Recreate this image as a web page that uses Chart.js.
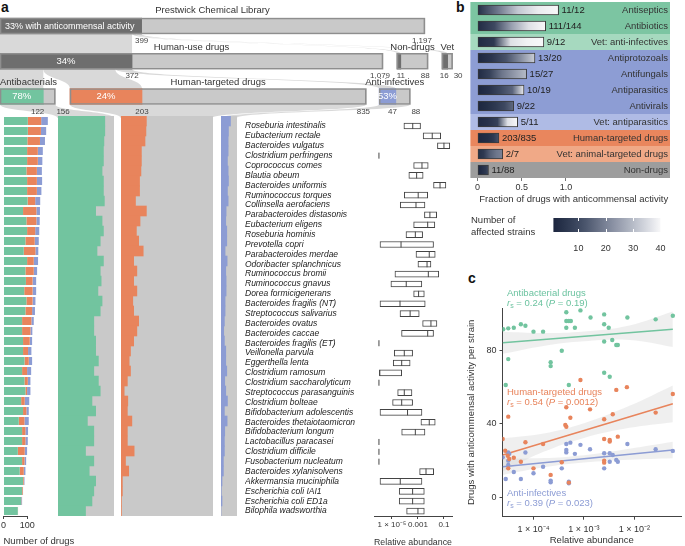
<!DOCTYPE html>
<html>
<head>
<meta charset="utf-8">
<title>Anticommensal activity of the Prestwick library</title>
<script src="https://cdn.jsdelivr.net/npm/chart.js@4.4.1/dist/chart.umd.min.js"></script>
<style>
  html, body { margin: 0; padding: 0; background: #fff; }
  body { position: relative; width: 685px; height: 546px; overflow: hidden;
         font-family: "Liberation Sans", Arial, sans-serif; color: #333; }
  canvas { position: absolute; }
  .txt { position: absolute; white-space: nowrap; font-size: 9.5px; line-height: 11px; }
  .sub { font-size: 7px; vertical-align: -2px; }
  .panel { position: absolute; font-weight: bold; font-size: 14px; line-height: 14px; color: #111; }
</style>
</head>
<body>
<div class="panel" style="left:1px;top:0px">a</div>
<div class="panel" style="left:456px;top:0px">b</div>
<div class="panel" style="left:468px;top:271px">c</div>

<canvas id="tiers" width="470" height="118" style="left:0;top:0"></canvas>
<canvas id="counts" width="75" height="432" style="left:0;top:116px"></canvas>
<canvas id="boxes" width="220" height="432" style="left:240px;top:116px"></canvas>
<canvas id="fractions" width="230" height="212" style="left:455px;top:0"></canvas>
<canvas id="colorbar" width="130" height="44" style="left:545px;top:212px"></canvas>
<canvas id="scatter" width="230" height="266" style="left:455px;top:280px"></canvas>

<div class="txt" style="left:471px;top:214px">Number of</div>
<div class="txt" style="left:471px;top:226px">affected strains</div>

<div class="txt" style="left:507px;top:287px;color:#6cc3a0">Antibacterial drugs</div>
<div class="txt" style="left:507px;top:297px;color:#6cc3a0"><i>r</i><span class="sub">s</span> = 0.24 (<i>P</i> = 0.19)</div>
<div class="txt" style="left:507px;top:386px;color:#e8845c">Human-targeted drugs</div>
<div class="txt" style="left:507px;top:396px;color:#e8845c"><i>r</i><span class="sub">s</span> = 0.54 (<i>P</i> = 0.0012)</div>
<div class="txt" style="left:507px;top:487px;color:#8c9cd4">Anti-infectives</div>
<div class="txt" style="left:507px;top:497px;color:#8c9cd4"><i>r</i><span class="sub">s</span> = 0.39 (<i>P</i> = 0.023)</div>

<script>
// ---------- panel a: library tiers ----------
const tierGroups = ['Prestwick Chemical Library', 'Human-use drugs', 'Non-drugs', 'Vet',
                    'Antibacterials', 'Human-targeted drugs', 'Anti-infectives'];
const tierLevel = [0, 1, 1, 1, 2, 2, 2];
const tierParent = [-1, 0, 0, 0, 1, 1, 1];
const tierTotal = [1197, 1079, 88, 30, 156, 835, 88];
const tierActive = [399, 372, 11, 16, 122, 203, 47];

// ---------- panel a: strains ----------
const strains = ['Roseburia intestinalis', 'Eubacterium rectale', 'Bacteroides vulgatus', 'Clostridium perfringens',
  'Coprococcus comes', 'Blautia obeum', 'Bacteroides uniformis', 'Ruminococcus torques', 'Collinsella aerofaciens',
  'Parabacteroides distasonis', 'Eubacterium eligens', 'Roseburia hominis', 'Prevotella copri',
  'Parabacteroides merdae', 'Odoribacter splanchnicus', 'Ruminococcus bromii', 'Ruminococcus gnavus',
  'Dorea formicigenerans', 'Bacteroides fragilis (NT)', 'Streptococcus salivarius', 'Bacteroides ovatus',
  'Bacteroides caccae', 'Bacteroides fragilis (ET)', 'Veillonella parvula', 'Eggerthella lenta',
  'Clostridium ramosum', 'Clostridium saccharolyticum', 'Streptococcus parasanguinis', 'Clostridium bolteae',
  'Bifidobacterium adolescentis', 'Bacteroides thetaiotaomicron', 'Bifidobacterium longum',
  'Lactobacillus paracasei', 'Clostridium difficile', 'Fusobacterium nucleatum', 'Bacteroides xylanisolvens',
  'Akkermansia muciniphila', 'Escherichia coli IAI1', 'Escherichia coli ED1a', 'Bilophila wadsworthia'];

// drugs hitting each strain, per class
const antibacterialHits = [102, 102, 100, 99, 99, 96, 99, 99, 101, 82, 96, 99, 92, 85, 99, 92, 94, 87, 96, 92,
  78, 78, 82, 82, 88, 78, 88, 92, 74, 82, 64, 78, 78, 60, 78, 68, 82, 78, 74, 60];
const humanTargetedHits = [56, 55, 53, 45, 45, 44, 41, 41, 32, 56, 42, 34, 39, 49, 28, 35, 28, 35, 26, 28,
  39, 35, 28, 21, 18, 21, 14, 7, 15, 14, 24, 14, 14, 29, 10, 17, 3, 3, 1, 1];
const antiInfectiveHits = [28, 22, 21, 21, 19, 21, 22, 19, 21, 15, 14, 17, 17, 12, 18, 14, 15, 15, 12, 12,
  10, 8, 10, 14, 14, 17, 11, 14, 19, 10, 18, 11, 10, 10, 7, 7, 3, 1, 3, 0];
const countTicks = [0, 100];

// relative abundance (log10) per strain: lower quartile, median, upper quartile
const abundQ1Log = [-4.08, -2.6, -1.5, -6, -3.33, -3.7, -1.8, -4.05, -4.36, -2.5, -3.33, -3.92, -5.92, -3.15,
  -3.0, -4.77, -5.08, -3.33, -5.92, -4.38, -2.64, -4.26, -6, -4.82, -4.9, -5.95, -6, -4.56, -4.95, -5.92,
  -2.77, -4.25, -6, -6, -6, -2.87, -5.92, -4.44, -4.44, -3.87];
const abundMedLog = [-3.4, -1.9, -1.0, -6, -2.69, -3.1, -1.3, -2.98, -3.15, -2.08, -2.25, -3.2, -4.3, -2.13,
  -2.3, -2.2, -3.9, -2.95, -4.38, -3.6, -2.0, -2.25, -6, -4.05, -4.25, -5.95, -6, -4.05, -4.25, -3.8,
  -2.13, -3.2, -6, -6, -6, -2.38, -4.36, -3.41, -3.41, -3.0];
const abundQ3Log = [-2.8, -1.25, -0.55, -6, -2.21, -2.6, -0.85, -2.25, -2.46, -1.56, -1.7, -2.64, -1.8, -1.67,
  -2.0, -1.4, -2.7, -2.51, -2.44, -2.9, -1.54, -1.8, -6, -3.41, -3.6, -4.25, -6, -3.46, -3.41, -2.69,
  -1.67, -2.46, -6, -6, -6, -1.79, -2.69, -2.51, -2.51, -2.51];
const abundTicksA = [1e-5, 1e-3, 1e-1];
const abundTickLabelsA = ['1 × 10⁻⁵', '0.001', '0.1'];

// ---------- panel b ----------
const bCategories = ['Antiseptics', 'Antibiotics', 'Vet: anti-infectives', 'Antiprotozoals', 'Antifungals',
  'Antiparasitics', 'Antivirals', 'Vet: antiparasitics', 'Human-targeted drugs', 'Vet: animal-targeted drugs', 'Non-drugs'];
const bActive = [11, 111, 9, 13, 15, 10, 9, 5, 203, 2, 11];
const bTotal = [12, 144, 12, 20, 27, 19, 22, 11, 835, 7, 88];
// affected strains along each bar (drugs sorted), read at 0, 25, 50, 75, 100 %
const bStrainQuantiles = [[3, 18, 32, 38, 40], [2, 10, 25, 36, 40], [2, 6, 36, 39, 40], [1, 5, 12, 22, 33],
  [2, 8, 18, 24, 30], [1, 4, 10, 15, 38], [1, 3, 6, 10, 16], [2, 4, 8, 36, 40], [1, 2, 3, 6, 12],
  [3, 6, 14, 18, 20], [1, 2, 4, 6, 10]];
const bTicks = [0, 0.5, 1];
const strainRange = [1, 40];
const strainTicks = [10, 20, 30, 40];

// ---------- panel c ----------
const abxLogAbund = [-4.60, -4.50, -4.39, -4.25, -4.16, -4.00, -3.81, -4.50, -4.55, -3.44, -3.66, -3.66, -3.35,
  -3.35, -3.30, -3.26, -3.35, -3.18, -3.07, -3.30, -2.87, -2.60, -2.60, -2.51, -2.14, -1.58, -1.24, -2.60,
  -2.44, -2.36, -2.33, -2.60, -2.49];
const abxPerStrain = [91.7, 92.2, 92.5, 94.4, 93.6, 90.4, 90.4, 75.4, 61.3, 80, 73.7, 71.6, 101, 96.2, 96.2,
  96.2, 92.5, 92.5, 102, 61.3, 98.1, 99.8, 94.4, 92.5, 98.1, 97.1, 99.1, 85, 85.8, 83.1, 83.1, 68, 65.8];
const htLogAbund = [-4.61, -4.50, -4.56, -4.51, -4.48, -4.39, -4.50, -4.25, -4.16, -4.00, -3.81, -3.66, -3.44,
  -3.35, -3.37, -3.35, -3.27, -3.30, -3.07, -2.88, -2.36, -2.15, -2.60, -2.43, -2.60, -2.49, -2.49, -2.33,
  -2.60, -2.60, -1.58, -1.24];
const htPerStrain = [31.8, 44, 25.4, 22.7, 20.9, 21.6, 15.8, 19.4, 30, 15.8, 29.1, 12.2, 19.1, 49.1, 39.5,
  38.5, 43.4, 8, 64, 48, 58.6, 60.1, 42.6, 45.3, 31.8, 31.3, 30.4, 33.1, 20, 18.9, 46.2, 56.4];
const aiLogAbund = [-4.61, -4.50, -4.48, -4.50, -4.50, -4.55, -4.39, -4.25, -4.16, -4.00, -3.81, -3.66, -3.66,
  -3.44, -3.35, -3.35, -3.35, -3.27, -3.30, -3.30, -3.18, -3.07, -2.88, -2.60, -2.49, -2.43, -2.60, -2.49,
  -2.36, -2.33, -2.14, -1.58, -1.24];
const aiPerStrain = [21.8, 24.4, 23.7, 17.6, 20, 10, 13.8, 10, 24.4, 13.1, 16.7, 9.1, 8.2, 15.8, 29.1, 25.8,
  24.5, 29.8, 8.5, 7.6, 23.7, 28.6, 26.2, 24, 24, 23.1, 15.8, 19.4, 20.4, 19.4, 29.1, 26.2, 25.3];
const fitLogAbund = [-4.61, -1.24];
const abxFit = [84.3, 91.7];
const htFit = [23.1, 51.0];
const aiFit = [16.7, 25.8];
const ciLogAbund = [-4.61, -3.8, -3.0, -2.1, -1.24];
const abxCiLow = [78.3, 82.6, 85.1, 85.8, 82.0];
const abxCiHigh = [90.3, 89.6, 90.5, 93.8, 101.4];
const htCiLow = [14.1, 24.8, 32.4, 37.9, 41.0];
const htCiHigh = [32.1, 34.8, 40.4, 49.9, 61.0];
const aiCiLow = [12.2, 16.4, 19.0, 20.5, 21.3];
const aiCiHigh = [21.2, 21.4, 23.0, 26.5, 30.3];
const abundTicksC = [1e-4, 1e-3, 1e-2];
const abundTickLabelsC = ['1 × 10⁻⁴', '1 × 10⁻³', '1 × 10⁻²'];
const perStrainTicks = [0, 40, 80];

// ---------- styling / layout ----------
const FONT = '"Liberation Sans", Arial, sans-serif';
const GREEN = '#72c49f', ORANGE = '#e8845c', BLUE = '#8c9cd4';
const DARK = '#6e6e6e', LIGHT = '#c9c9c9', FLOW = '#d9d9d9', INK = '#444';
const tierColor = [DARK, DARK, DARK, DARK, GREEN, ORANGE, BLUE];
const tierOffset = [0, 0, 1118, 1245, 0, 197, 1068];   // horizontal placement, in drugs
const TIER_PX = 0.355;                                 // pixels per drug
const TIER_BAR = 16;
const heatLayout = [{ group: 4, left: 57.6, width: 56.2 }, { group: 5, left: 120.7, width: 91.8 },
                    { group: 6, left: 221, width: 16 }];
const heatHits = [antibacterialHits, humanTargetedHits, antiInfectiveHits];
const bRowColors = ['#7cc5a2', '#7cc5a2', '#a6d9bf', '#8d9dd4', '#8d9dd4', '#8d9dd4', '#8d9dd4',
                    '#afbbe5', '#e9865d', '#f0a987', '#9d9d9d'];
const cmapStops = [[0, [28, 38, 63]], [0.25, [64, 75, 99]], [0.5, [125, 133, 153]], [0.75, [184, 189, 201]], [1, [248, 248, 249]]];

Chart.defaults.font.family = FONT;
Chart.defaults.font.size = 9;
Chart.defaults.color = '#333';
Chart.defaults.animation = false;
Chart.defaults.responsive = false;
Chart.defaults.plugins.legend.display = false;
Chart.defaults.plugins.tooltip.enabled = false;

function strainColor(n) {
    const t = Math.max(0, Math.min(1, (n - strainRange[0]) / (strainRange[1] - strainRange[0])));
    for (let k = 1; k < cmapStops.length; k++) {
        const [t1, c1] = cmapStops[k];
        const [t0, c0] = cmapStops[k - 1];
        if (t <= t1) {
            const f = (t - t0) / (t1 - t0);
            const c = c0.map((v, j) => Math.round(v + (c1[j] - v) * f));
            return 'rgb(' + c.join(',') + ')';
        }
    }
    return 'rgb(248,248,249)';
}

function fixedTicks(values) {
    return (axis) => { axis.ticks = values.map(v => ({ value: v })); };
}

function flowBand(ctx, sx0, sx1, sy, tx0, tx1, ty) {
    const my = (sy + ty) / 2;
    ctx.beginPath();
    ctx.moveTo(sx0, sy);
    ctx.lineTo(sx1, sy);
    ctx.bezierCurveTo(sx1, my, tx1, my, tx1, ty);
    ctx.lineTo(tx0, ty);
    ctx.bezierCurveTo(tx0, my, sx0, my, sx0, sy);
    ctx.closePath();
    ctx.fill();
}

// ---------- tiers (top of panel a) ----------
const tierRows = ['tier0', 'tier1', 'tier2'];
const tierDatasets = [];
tierGroups.forEach((name, g) => {
    const o = tierOffset[g];
    const seg = (a, b) => tierRows.map((_, r) => r === tierLevel[g] ? [o + a, o + b] : null);
    tierDatasets.push({ data: seg(0, tierTotal[g]), backgroundColor: 'rgba(0,0,0,0)',
        borderColor: '#8e8e8e', borderWidth: 1, borderSkipped: false, order: 0 });
    tierDatasets.push({ data: seg(0, tierActive[g]), backgroundColor: tierColor[g], order: 1 });
    tierDatasets.push({ data: seg(tierActive[g], tierTotal[g]), backgroundColor: LIGHT, order: 1 });
});

const tierFlows = {
    id: 'tierFlows',
    beforeDatasetsDraw(chart) {
        const { ctx, scales: { x, y } } = chart;
        ctx.save();
        ctx.fillStyle = FLOW;
        const used = {};
        tierGroups.forEach((_, g) => {
            const p = tierParent[g];
            if (p < 0) return;
            const start = tierOffset[p] + (used[p] || 0);
            used[p] = (used[p] || 0) + tierActive[g];
            flowBand(ctx,
                x.getPixelForValue(start), x.getPixelForValue(start + tierActive[g]),
                y.getPixelForValue(tierLevel[p]) + TIER_BAR / 2,
                x.getPixelForValue(tierOffset[g]), x.getPixelForValue(tierOffset[g] + tierActive[g]),
                y.getPixelForValue(tierLevel[g]) - TIER_BAR / 2);
        });
        // funnels into the heatmaps
        heatLayout.forEach(h => {
            const g = h.group;
            flowBand(ctx,
                x.getPixelForValue(tierOffset[g]), x.getPixelForValue(tierOffset[g] + tierTotal[g]),
                y.getPixelForValue(tierLevel[g]) + TIER_BAR / 2,
                h.left, h.left + h.width, chart.height);
        });
        ctx.restore();
    }
};

const tierLabels = {
    id: 'tierLabels',
    afterDatasetsDraw(chart) {
        const { ctx, scales: { x, y } } = chart;
        ctx.save();
        ctx.textBaseline = 'middle';
        tierGroups.forEach((name, g) => {
            const cy = y.getPixelForValue(tierLevel[g]);
            const x0 = x.getPixelForValue(tierOffset[g]);
            const xa = x.getPixelForValue(tierOffset[g] + tierActive[g]);
            const xt = x.getPixelForValue(tierOffset[g] + tierTotal[g]);
            const pct = Math.round(tierActive[g] / tierTotal[g] * 100);

            // group name above the bar
            ctx.font = '9.5px ' + FONT;
            ctx.fillStyle = '#333';
            const w = ctx.measureText(name).width;
            const nx = Math.max(0, (x0 + xt) / 2 - w / 2);
            ctx.textAlign = 'left';
            ctx.fillText(name, nx, cy - TIER_BAR / 2 - (g === 0 ? 8 : 6));

            // share with activity
            ctx.fillStyle = '#fff';
            if (g === 0) {
                ctx.font = '9px ' + FONT;
                ctx.textAlign = 'left';
                ctx.fillText(pct + '% with anticommensal activity', x0 + 5, cy);
            } else if (xa - x0 > 12) {
                ctx.font = '9.5px ' + FONT;
                ctx.textAlign = 'center';
                ctx.fillText(pct + '%', (x0 + xa) / 2, cy);
            }

            // counts under the bar
            ctx.font = '8px ' + FONT;
            ctx.fillStyle = INK;
            const ly = cy + TIER_BAR / 2 + 7;
            if (xt - xa < 16) {
                ctx.textAlign = 'right';
                ctx.fillText(tierActive[g].toLocaleString('en-US'), xa + 1, ly);
                ctx.textAlign = 'left';
                ctx.fillText(tierTotal[g].toLocaleString('en-US'), xt + 1, ly);
            } else {
                ctx.textAlign = 'center';
                ctx.fillText(tierActive[g].toLocaleString('en-US'), xa, ly);
                ctx.fillText(tierTotal[g].toLocaleString('en-US'), xt - 3, ly);
            }
        });
        ctx.restore();
    }
};

new Chart(document.getElementById('tiers'), {
    type: 'bar',
    data: { labels: tierRows, datasets: tierDatasets },
    options: {
        indexAxis: 'y',
        layout: { padding: { top: 8.4, bottom: 3.85, left: 0, right: 0 } },
        datasets: { bar: { grouped: false, barThickness: TIER_BAR } },
        scales: {
            x: { display: false, min: 0, max: 470 / TIER_PX },
            y: { display: false }
        }
    },
    plugins: [tierFlows, tierLabels]
});

// ---------- stacked counts per strain ----------
const countAxisLine = {
    id: 'countAxisLine',
    afterDraw(chart) {
        const { ctx, chartArea, scales: { x } } = chart;
        ctx.save();
        ctx.strokeStyle = INK;
        ctx.lineWidth = 1;
        ctx.beginPath();
        ctx.moveTo(x.getPixelForValue(countTicks[0]), chartArea.bottom + 0.5);
        ctx.lineTo(x.getPixelForValue(countTicks[countTicks.length - 1]), chartArea.bottom + 0.5);
        ctx.stroke();
        ctx.restore();
    }
};

new Chart(document.getElementById('counts'), {
    type: 'bar',
    data: {
        labels: strains,
        datasets: [
            { data: antibacterialHits, backgroundColor: GREEN },
            { data: humanTargetedHits, backgroundColor: ORANGE },
            { data: antiInfectiveHits, backgroundColor: BLUE }
        ]
    },
    options: {
        indexAxis: 'y',
        layout: { padding: { left: 3, right: 0, top: 0, bottom: 0 } },
        datasets: { bar: { barPercentage: 0.82, categoryPercentage: 1 } },
        scales: {
            x: {
                stacked: true, min: 0, max: 72 / 0.24,
                afterBuildTicks: fixedTicks(countTicks),
                afterFit: (s) => { s.height = 32; },
                border: { display: false },
                grid: { drawOnChartArea: false, tickLength: 3, color: INK },
                ticks: { padding: 1, color: '#333', font: { size: 9 } },
                title: { display: true, text: 'Number of drugs', align: 'start',
                         font: { size: 9.5 }, padding: { top: 0, bottom: 1 } }
            },
            y: { stacked: true, display: false }
        }
    },
    plugins: [countAxisLine]
});

// ---------- heatmaps (hits per strain, sorted) ----------
heatLayout.forEach((h, k) => {
    const cv = document.createElement('canvas');
    cv.width = Math.round(h.width);
    cv.height = 400;
    cv.style.left = h.left + 'px';
    cv.style.top = '116px';
    document.body.appendChild(cv);
    const active = tierActive[h.group];
    new Chart(cv, {
        type: 'bar',
        data: {
            labels: strains,
            datasets: [
                { data: heatHits[k], backgroundColor: tierColor[h.group] },
                { data: heatHits[k].map(v => active - v), backgroundColor: LIGHT }
            ]
        },
        options: {
            indexAxis: 'y',
            datasets: { bar: { barPercentage: 1, categoryPercentage: 1 } },
            scales: {
                x: { stacked: true, display: false, min: 0, max: active },
                y: { stacked: true, display: false }
            }
        }
    });
});

// ---------- abundance boxes ----------
new Chart(document.getElementById('boxes'), {
    type: 'bar',
    data: {
        labels: strains,
        datasets: [
            {
                type: 'line', showLine: false,
                data: strains.map((s, i) => ({ x: 10 ** abundMedLog[i], y: s })),
                pointStyle: 'line', rotation: 90, radius: 3, borderColor: INK, borderWidth: 1, order: 0
            },
            {
                data: strains.map((s, i) => [10 ** abundQ1Log[i], 10 ** abundQ3Log[i]]),
                backgroundColor: '#fff', borderColor: INK, borderWidth: 1, borderSkipped: false,
                barThickness: 6, order: 1
            }
        ]
    },
    options: {
        indexAxis: 'y',
        layout: { padding: { left: 5, right: 8, top: 0, bottom: 0 } },
        scales: {
            x: {
                type: 'logarithmic', min: 10 ** -6.38, max: 10 ** -0.38,
                afterBuildTicks: fixedTicks(abundTicksA),
                afterFit: (s) => { s.height = 32; },
                border: { display: true, color: INK },
                grid: { drawOnChartArea: false, tickLength: 3, color: INK },
                ticks: { padding: 1, autoSkip: false, maxRotation: 0, color: '#333', font: { size: 8 },
                          callback: (v, i) => abundTickLabelsA[i] },
                title: { display: true, text: 'Relative abundance', font: { size: 9.5 },
                         padding: { top: 0, bottom: 0 } }
            },
            y: {
                afterFit: (s) => { s.width = 129; },
                border: { display: false },
                grid: { display: false },
                ticks: { crossAlign: 'far', autoSkip: false, padding: 0, color: '#222',
                         font: { size: 8.5, style: 'italic' } }
            }
        }
    }
});

// ---------- panel b: fraction of active drugs ----------
const bBackground = {
    id: 'bBackground',
    beforeDatasetsDraw(chart) {
        const { ctx, chartArea, scales: { y } } = chart;
        const half = (chartArea.bottom - chartArea.top) / bCategories.length / 2;
        ctx.save();
        bCategories.forEach((c, i) => {
            const cy = y.getPixelForValue(i);
            ctx.fillStyle = bRowColors[i];
            ctx.fillRect(chartArea.left - 7, cy - half, chartArea.right - chartArea.left + 7, half * 2);
        });
        ctx.restore();
    },
    afterDatasetsDraw(chart) {
        const { ctx, chartArea, scales: { x, y } } = chart;
        ctx.save();
        ctx.font = '9.5px ' + FONT;
        ctx.textBaseline = 'middle';
        bCategories.forEach((c, i) => {
            const cy = y.getPixelForValue(i);
            ctx.fillStyle = '#222';
            ctx.textAlign = 'left';
            ctx.fillText(bActive[i] + '/' + bTotal[i], x.getPixelForValue(bActive[i] / bTotal[i]) + 3, cy);
            ctx.fillStyle = '#333';
            ctx.textAlign = 'right';
            ctx.fillText(c, chartArea.right - 2, cy);
        });
        ctx.restore();
    }
};

new Chart(document.getElementById('fractions'), {
    type: 'bar',
    data: {
        labels: bCategories,
        datasets: [{
            data: bCategories.map((c, i) => [0, bActive[i] / bTotal[i]]),
            backgroundColor(c) {
                const xs = c.chart.scales.x;
                if (c.type !== 'data' || !xs) return '#555';
                const x0 = xs.getPixelForValue(0);
                const x1 = xs.getPixelForValue(bActive[c.dataIndex] / bTotal[c.dataIndex]);
                if (!isFinite(x0) || !isFinite(x1) || x1 <= x0) return '#555';
                const gr = c.chart.ctx.createLinearGradient(x0, 0, x1, 0);
                const q = bStrainQuantiles[c.dataIndex];
                q.forEach((n, k) => gr.addColorStop(k / (q.length - 1), strainColor(n)));
                return gr;
            },
            borderColor: '#3a3a3a', borderWidth: 1, borderSkipped: false, barThickness: 10
        }]
    },
    options: {
        indexAxis: 'y',
        layout: { padding: { left: 22.4, right: 15, top: 2, bottom: 0 } },
        scales: {
            x: {
                min: 0, max: (670 - 477.4) / 88.6,
                afterBuildTicks: fixedTicks(bTicks),
                afterFit: (s) => { s.height = 34; },
                border: { display: false },
                grid: { drawOnChartArea: false, tickLength: 3, color: '#777' },
                ticks: { padding: 1, color: '#333', callback: (v) => v === 1 ? '1.0' : String(v) },
                title: { display: true, text: 'Fraction of drugs with anticommensal activity',
                         font: { size: 9.5 }, padding: { top: 0, bottom: 7 } }
            },
            y: { display: false }
        }
    },
    plugins: [bBackground]
});

// ---------- colour key ----------
const keyTicks = {
    id: 'keyTicks',
    afterDatasetsDraw(chart) {
        const { ctx, chartArea, scales: { x } } = chart;
        ctx.save();
        ctx.strokeStyle = '#fff';
        ctx.lineWidth = 1;
        strainTicks.slice(0, -1).forEach(v => {
            const px = Math.round(x.getPixelForValue(v)) + 0.5;
            ctx.beginPath();
            ctx.moveTo(px, chartArea.top); ctx.lineTo(px, chartArea.top + 3);
            ctx.moveTo(px, chartArea.bottom - 3); ctx.lineTo(px, chartArea.bottom);
            ctx.stroke();
        });
        ctx.restore();
    }
};

new Chart(document.getElementById('colorbar'), {
    type: 'bar',
    data: {
        labels: ['strains'],
        datasets: [{
            data: [strainRange],
            backgroundColor(c) {
                const xs = c.chart.scales.x;
                if (c.type !== 'data' || !xs) return '#555';
                const x0 = xs.getPixelForValue(strainRange[0]);
                const x1 = xs.getPixelForValue(strainRange[1]);
                if (!isFinite(x0) || !isFinite(x1) || x1 <= x0) return '#555';
                const gr = c.chart.ctx.createLinearGradient(x0, 0, x1, 0);
                for (let k = 0; k <= 10; k++) {
                    gr.addColorStop(k / 10, strainColor(strainRange[0] + (strainRange[1] - strainRange[0]) * k / 10));
                }
                return gr;
            },
            barPercentage: 1, categoryPercentage: 1
        }]
    },
    options: {
        indexAxis: 'y',
        layout: { padding: { left: 6, right: 14.5, top: 6, bottom: 0 } },
        scales: {
            x: {
                min: 0, max: 40,
                afterBuildTicks: fixedTicks(strainTicks),
                afterFit: (s) => { s.height = 24; },
                border: { display: false },
                grid: { display: false },
                ticks: { padding: 3, color: '#333', font: { size: 9 } }
            },
            y: { display: false }
        }
    },
    plugins: [keyTicks]
});

// ---------- panel c: activity vs abundance ----------
const classes = [
    { lx: abxLogAbund, v: abxPerStrain, fit: abxFit, lo: abxCiLow, hi: abxCiHigh, color: GREEN },
    { lx: htLogAbund, v: htPerStrain, fit: htFit, lo: htCiLow, hi: htCiHigh, color: ORANGE },
    { lx: aiLogAbund, v: aiPerStrain, fit: aiFit, lo: aiCiLow, hi: aiCiHigh, color: BLUE }
];
const scatterSets = [];
classes.forEach(k => {
    scatterSets.push({ type: 'line', data: ciLogAbund.map((l, i) => ({ x: 10 ** l, y: k.lo[i] })),
        borderWidth: 0, pointRadius: 0, fill: false, tension: 0.4, order: 3 });
    scatterSets.push({ type: 'line', data: ciLogAbund.map((l, i) => ({ x: 10 ** l, y: k.hi[i] })),
        borderWidth: 0, pointRadius: 0, fill: '-1', backgroundColor: 'rgba(205,205,205,0.32)',
        tension: 0.4, order: 3 });
    scatterSets.push({ type: 'line', data: fitLogAbund.map((l, i) => ({ x: 10 ** l, y: k.fit[i] })),
        borderColor: k.color, borderWidth: 1.5, pointRadius: 0, fill: false, order: 2 });
    scatterSets.push({ type: 'scatter', data: k.lx.map((l, i) => ({ x: 10 ** l, y: k.v[i] })),
        pointRadius: 2.2, backgroundColor: k.color, borderWidth: 0, order: 1 });
});

new Chart(document.getElementById('scatter'), {
    type: 'scatter',
    data: { datasets: scatterSets },
    options: {
        layout: { padding: { left: 0, right: 1, top: 28, bottom: 0 } },
        scales: {
            x: {
                type: 'logarithmic', min: 10 ** -4.614, max: 10 ** -1.078,
                afterBuildTicks: fixedTicks(abundTicksC),
                afterFit: (s) => { s.height = 29.3; },
                border: { display: true, color: INK },
                grid: { drawOnChartArea: false, tickLength: 3, color: INK },
                ticks: { padding: 4, maxRotation: 0, autoSkip: false, color: '#333',
                         callback: (v, i) => abundTickLabelsC[i] },
                title: { display: true, text: 'Relative abundance', font: { size: 9.5 },
                         padding: { top: 0, bottom: 0 } }
            },
            y: {
                min: -10.6, max: 103.3,
                afterBuildTicks: fixedTicks(perStrainTicks),
                afterFit: (s) => { s.width = 47.5; },
                border: { display: true, color: INK },
                grid: { drawOnChartArea: false, tickLength: 3, color: INK },
                ticks: { padding: 3, color: '#333' },
                title: { display: true, text: 'Drugs with anticommensal activity per strain',
                         font: { size: 9.5 }, padding: { top: 11, bottom: 0 } }
            }
        }
    }
});
</script>
</body>
</html>
